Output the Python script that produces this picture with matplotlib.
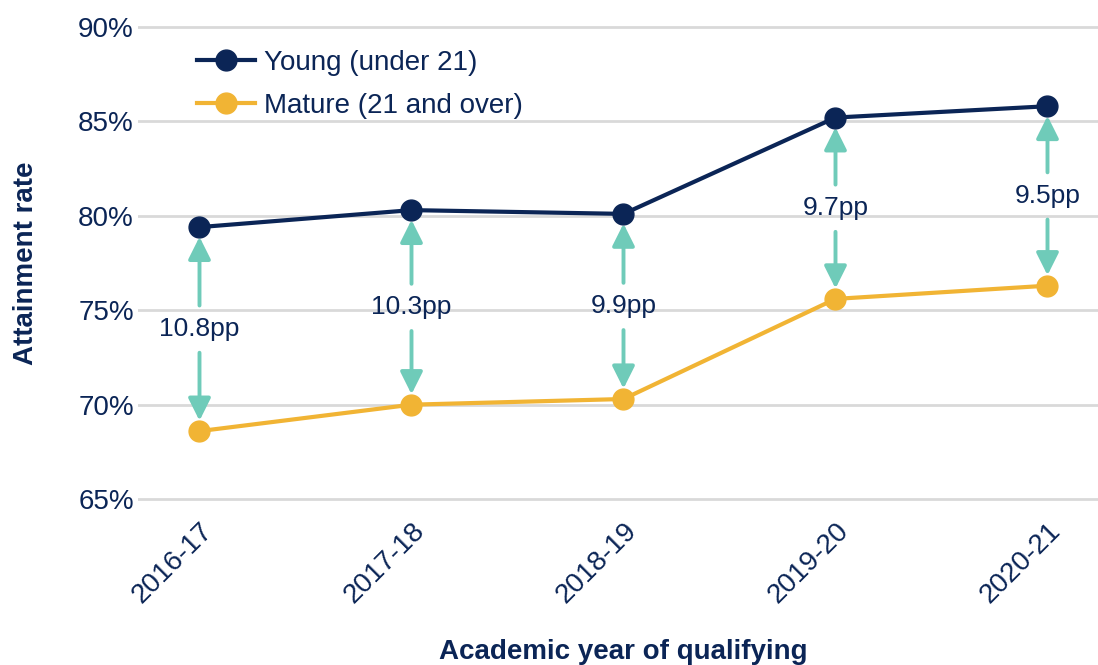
import matplotlib.pyplot as plt
from matplotlib.ticker import FuncFormatter

plt.rcParams['font.family'] = ['Liberation Sans', 'DejaVu Sans']

anios = ['2016-17', '2017-18', '2018-19', '2019-20', '2020-21']
young = [79.4, 80.3, 80.1, 85.2, 85.8]
mature = [68.6, 70.0, 70.3, 75.6, 76.3]
brechas = ['10.8pp', '10.3pp', '9.9pp', '9.7pp', '9.5pp']

navy = '#0b2556'
oro = '#f1b434'
verde = '#6fcbb9'

fig = plt.figure(figsize=(10.98, 6.65), dpi=100)
ax = fig.add_axes([0.1257, 0.2466, 0.8743 + 0.01, 0.7158])

x = list(range(len(anios)))

# flechas de la brecha
for i in x:
    medio = (young[i] + mature[i]) / 2
    ax.text(i, medio, brechas[i], ha='center', va='center', fontsize=19, color=navy, zorder=5)
    ax.annotate('', xy=(i, young[i]), xytext=(i, medio),
                arrowprops=dict(arrowstyle='-|>', color=verde, lw=2.8, shrinkA=17, shrinkB=7,
                                mutation_scale=34), zorder=2)
    ax.annotate('', xy=(i, mature[i]), xytext=(i, medio),
                arrowprops=dict(arrowstyle='-|>', color=verde, lw=2.8, shrinkA=17, shrinkB=7.5,
                                mutation_scale=34), zorder=2)

ax.plot(x, young, color=navy, lw=3, marker='o', markersize=15, label='Young (under 21)', zorder=4)
ax.plot(x, mature, color=oro, lw=3, marker='o', markersize=15, label='Mature (21 and over)', zorder=4)

ax.set_ylim(64.9, 90.1)
ax.set_xlim(-0.29, 4.29)
ax.set_yticks([65, 70, 75, 80, 85, 90])
ax.yaxis.set_major_formatter(FuncFormatter(lambda v, p: f'{v:.0f}%'))
ax.set_xticks(x)
ax.set_xticklabels(anios, rotation=45, ha='right', rotation_mode='anchor')
ax.tick_params(axis='both', length=0, labelsize=20, labelcolor=navy)
ax.tick_params(axis='y', pad=3)
ax.tick_params(axis='x', pad=12)
ax.grid(axis='y', color='#d9d9d9', lw=2)
ax.set_axisbelow(True)
for s in ax.spines.values():
    s.set_visible(False)

ax.set_ylabel('Attainment rate', fontsize=20, fontweight='bold', color=navy, labelpad=28)
ax.set_xlabel('Academic year of qualifying', fontsize=20, fontweight='bold', color=navy, labelpad=22)

ax.legend(loc='upper left', bbox_to_anchor=(0.035, 1.0), frameon=False, fontsize=20,
          labelcolor=navy, handlelength=2.1, handletextpad=0.3, labelspacing=0.6)

fig.savefig('out.png', dpi=100)
